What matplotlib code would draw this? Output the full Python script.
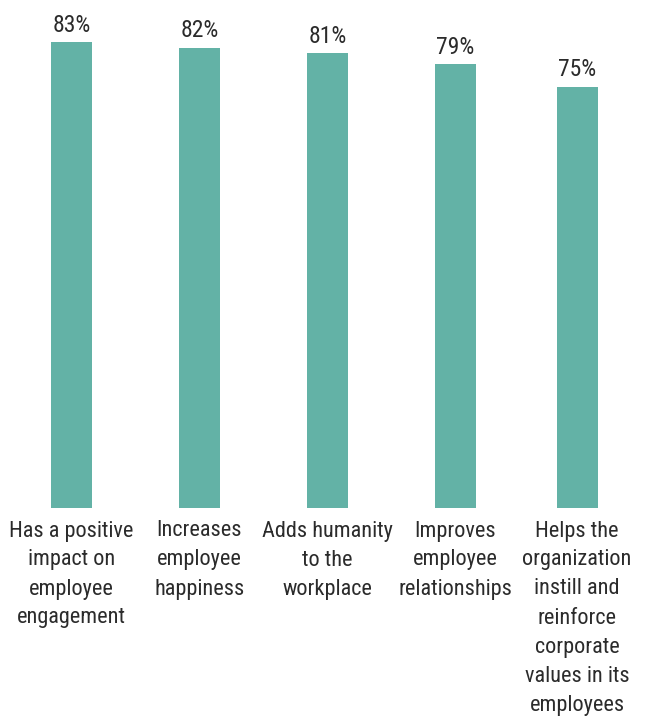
import matplotlib
matplotlib.use("Agg")
import matplotlib.pyplot as plt
from matplotlib import font_manager

categories = [
    "Has a positive\nimpact on\nemployee\nengagement",
    "Increases\nemployee\nhappiness",
    "Adds humanity\nto the\nworkplace",
    "Improves\nemployee\nrelationships",
    "Helps the\norganization\ninstill and\nreinforce\ncorporate\nvalues in its\nemployees",
]
values = [83, 82, 81, 79, 75]
value_labels = ["83%", "82%", "81%", "79%", "75%"]

available = {f.name for f in font_manager.fontManager.ttflist}
family = "DejaVu Sans"
for cand in ["Liberation Sans Narrow", "Roboto Condensed", "Open Sans Condensed", "Liberation Sans"]:
    if cand in available:
        family = cand
        break

BAR_COLOR = "#63b2a6"
TEXT_COLOR = "#2b2b2b"
FS = 16

fig = plt.figure(figsize=(6.46, 7.17), dpi=100)
ax = fig.add_axes([0, 209 / 717, 1, 508 / 717])

xpos = [0, 1, 2, 3, 3.95]
ax.bar(xpos, values, width=0.32, color=BAR_COLOR)

for x, v, lab in zip(xpos, values, value_labels):
    ax.annotate(lab, (x, v), xytext=(0, 7.5), textcoords="offset points",
                ha="center", va="baseline", fontsize=FS + 1, color=TEXT_COLOR,
                family=family)

for x, cat in zip(xpos, categories):
    ax.annotate(cat, (x, 0), xytext=(0, -9), textcoords="offset points",
                ha="center", va="top", fontsize=FS, color=TEXT_COLOR,
                family=family, linespacing=1.5, annotation_clip=False)

ax.set_xlim(-71.5 / 128, (646 - 71.5) / 128)
ax.set_ylim(0, 508 / (466 / 83))
ax.axis("off")

fig.savefig("out.png", dpi=100)
